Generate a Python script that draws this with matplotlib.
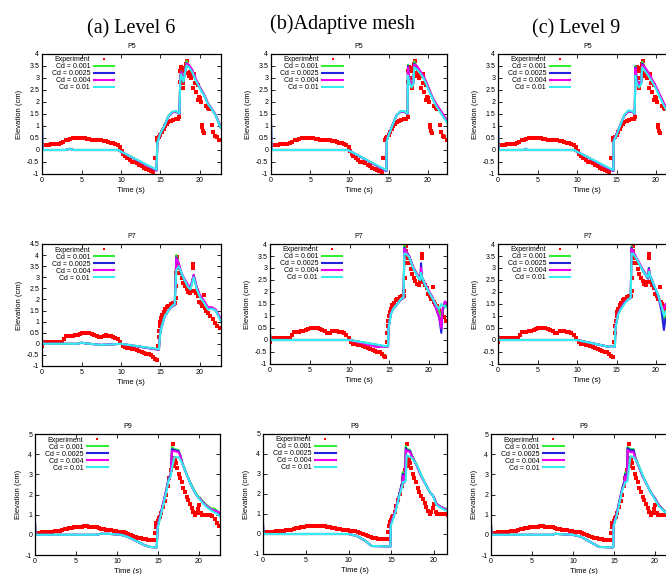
import matplotlib
matplotlib.use('Agg')
import matplotlib.pyplot as plt
from matplotlib.ticker import FormatStrFormatter

plt.rcParams['font.family'] = ['Liberation Sans', 'DejaVu Sans']
plt.rcParams['axes.unicode_minus'] = False

# Experiment (same measurements in every column)
exp5_t = [0.0, 0.3, 0.6, 0.9, 1.2, 1.5, 1.8, 2.1, 2.4, 2.7, 3.0, 3.3, 3.6, 3.9, 4.2, 4.5, 4.8, 5.1, 5.4, 5.7,
          6.0, 6.3, 6.6, 6.9, 7.2, 7.5, 7.8, 8.1, 8.4, 8.7, 9.0, 9.3, 9.6, 9.9, 10.1, 10.3, 10.5, 10.8, 11.1, 11.4,
          11.7, 12.0, 12.3, 12.6, 12.9, 13.2, 13.5, 13.8, 14.1, 14.25, 14.5, 14.6, 14.8, 15.0, 15.2, 15.4, 15.6, 15.8,
          16.0, 16.3, 16.6, 16.9, 17.2, 17.4, 17.45, 17.5, 17.55, 17.7, 17.8, 17.9, 18.0, 18.1, 18.2, 18.3, 18.4,
          18.5, 18.6, 18.7, 18.8, 18.9, 19.0, 19.1, 19.2, 19.3, 19.4, 19.5, 19.7, 19.8, 19.9, 20.0, 20.1, 20.2,
          20.3, 20.4, 20.5, 20.8, 21.0, 21.2, 21.5, 21.7, 21.9, 22.1, 22.4, 22.6]
exp5_y = [0.22, 0.22, 0.22, 0.22, 0.23, 0.23, 0.24, 0.26, 0.28, 0.32, 0.40, 0.42, 0.45, 0.48, 0.50, 0.51, 0.52, 0.51, 0.50, 0.47,
          0.45, 0.43, 0.42, 0.43, 0.42, 0.40, 0.38, 0.36, 0.34, 0.31, 0.28, 0.24, 0.20, 0.12, -0.05, -0.15, -0.25, -0.35, -0.42, -0.48,
          -0.52, -0.56, -0.62, -0.68, -0.74, -0.80, -0.85, -0.89, -0.90, -0.35, 0.40, 0.50, 0.55, 0.62, 0.75, 0.88, 1.00, 1.08,
          1.15, 1.22, 1.25, 1.28, 1.30, 1.38, 2.85, 3.30, 3.45, 3.00, 2.80, 2.60, 3.30, 3.40, 3.60, 3.70, 3.50,
          3.20, 3.10, 3.25, 3.00, 3.15, 3.15, 2.60, 3.10, 3.15, 2.80, 2.40, 2.70, 2.10, 2.20, 2.15, 2.00, 1.05,
          0.95, 0.80, 0.70, 1.85, 1.75, 1.70, 1.05, 0.75, 0.60, 0.55, 0.42, 0.40]

exp7_t = [0.0, 0.1, 0.4, 0.7, 1.0, 1.3, 1.6, 1.9, 2.2, 2.5, 2.8, 3.0, 3.3, 3.6, 3.9, 4.2, 4.5, 4.8, 5.1, 5.4,
          5.7, 6.0, 6.3, 6.6, 6.9, 7.2, 7.5, 7.8, 8.1, 8.4, 8.7, 9.0, 9.3, 9.6, 9.9, 10.2, 10.5, 10.8, 11.1, 11.4,
          11.7, 12.0, 12.3, 12.6, 12.9, 13.2, 13.5, 13.8, 14.1, 14.3, 14.5, 14.7, 14.75, 14.8, 14.9, 15.0, 15.1, 15.2,
          15.4, 15.6, 15.8, 16.0, 16.3, 16.6, 16.8, 16.9, 16.95, 17.0, 17.05, 17.1, 17.2, 17.35, 17.5, 17.7, 17.9,
          18.1, 18.3, 18.5, 18.7, 18.9, 19.1, 19.15, 19.3, 19.5, 19.7, 19.9, 20.1, 20.3, 20.5, 20.6, 20.8, 21.0,
          21.3, 21.6, 21.9, 22.2, 22.5]
exp7_y = [-0.10, 0.05, 0.08, 0.08, 0.08, 0.08, 0.08, 0.08, 0.08, 0.10, 0.20, 0.33, 0.35, 0.35, 0.36, 0.38, 0.40, 0.44, 0.48, 0.50,
          0.50, 0.48, 0.45, 0.42, 0.37, 0.30, 0.30, 0.36, 0.38, 0.37, 0.35, 0.32, 0.28, 0.20, 0.08, -0.08, -0.15, -0.18, -0.20, -0.22,
          -0.25, -0.28, -0.32, -0.38, -0.42, -0.45, -0.48, -0.52, -0.58, -0.68, -0.72, -0.10, 0.30, 0.60, 0.80, 1.00, 1.15, 1.30,
          1.45, 1.55, 1.65, 1.72, 1.78, 1.82, 1.85, 2.05, 2.60, 3.20, 3.90, 3.70, 3.50, 3.40, 3.20, 2.95, 2.75,
          2.60, 2.45, 2.35, 2.30, 2.40, 3.60, 3.40, 2.40, 2.30, 2.15, 1.90, 1.85, 1.70, 2.20, 1.60, 1.50, 1.40,
          1.25, 1.10, 0.95, 0.80, 0.72]

exp9_t = [0.0, 0.3, 0.6, 0.9, 1.2, 1.5, 1.8, 2.1, 2.4, 2.7, 3.0, 3.3, 3.6, 3.9, 4.2, 4.5, 4.8, 5.1, 5.4, 5.7,
          6.0, 6.3, 6.6, 6.9, 7.2, 7.5, 7.8, 8.1, 8.4, 8.7, 9.0, 9.3, 9.6, 9.9, 10.2, 10.5, 10.8, 11.1, 11.4, 11.7,
          12.0, 12.3, 12.6, 12.9, 13.2, 13.5, 13.8, 14.1, 14.4, 14.6, 14.65, 14.7, 14.8, 14.9, 15.0, 15.1, 15.2, 15.4,
          15.6, 15.8, 16.0, 16.2, 16.4, 16.6, 16.7, 16.8, 16.9, 17.0, 17.1, 17.2, 17.3, 17.5, 17.7, 17.9, 18.1,
          18.3, 18.5, 18.7, 18.9, 19.1, 19.3, 19.5, 19.7, 19.9, 20.0, 20.2, 20.4, 20.7, 21.0, 21.3, 21.6, 21.9,
          22.2, 22.5]
exp9_y = [0.08, 0.10, 0.10, 0.12, 0.12, 0.14, 0.15, 0.16, 0.17, 0.18, 0.20, 0.22, 0.27, 0.30, 0.32, 0.35, 0.37, 0.38, 0.39, 0.41,
          0.42, 0.42, 0.41, 0.40, 0.39, 0.37, 0.33, 0.30, 0.28, 0.26, 0.24, 0.22, 0.20, 0.18, 0.16, 0.15, 0.13, 0.10, 0.05, 0.00,
          -0.05, -0.10, -0.15, -0.18, -0.21, -0.23, -0.25, -0.25, -0.26, -0.25, 0.10, 0.40, 0.60, 0.55, 0.70, 0.85, 0.90, 1.10,
          1.40, 1.70, 2.00, 2.40, 2.80, 3.20, 3.50, 4.50, 3.80, 3.40, 3.70, 3.55, 3.30, 3.00, 2.80, 2.60, 2.30,
          2.10, 1.90, 1.75, 1.55, 1.35, 1.15, 1.00, 1.10, 1.30, 1.50, 1.10, 1.00, 1.00, 1.00, 0.98, 0.95, 0.80,
          0.60, 0.45]

# Simulations, column (a) Level 6
t_a5 = [0.0, 0.05, 3.0, 3.5, 4.0, 9.6, 14.5, 14.6, 15.0, 15.5, 16.0, 16.5, 17.0, 17.4, 17.5, 17.6, 17.9, 18.3, 18.6, 19.0, 19.5, 20.0, 20.5, 21.0, 21.5, 22.0, 22.6]
g_a5 = [1.15, 0.0, 0.0, 0.05, 0.0, 0.0, -0.84, 0.35, 0.72, 1.02, 1.42, 1.58, 1.6, 1.5, 3.0, 3.28, 2.85, 3.72, 3.5, 3.32, 2.92, 2.6, 2.32, 1.95, 1.72, 1.45, 0.95]
b_a5 = [1.15, 0.0, 0.0, 0.05, 0.0, 0.0, -0.86, 0.3, 0.7, 1.0, 1.4, 1.57, 1.6, 1.5, 2.95, 3.25, 2.85, 3.62, 3.5, 3.3, 2.9, 2.58, 2.3, 1.93, 1.7, 1.43, 0.95]
m_a5 = [1.15, 0.0, 0.0, 0.05, 0.0, 0.0, -0.85, 0.3, 0.7, 1.0, 1.4, 1.57, 1.6, 1.5, 2.95, 3.25, 2.9, 3.6, 3.55, 3.35, 2.95, 2.6, 2.32, 1.95, 1.72, 1.45, 1.0]
c_a5 = [1.15, 0.0, 0.0, 0.05, 0.0, 0.0, -0.82, 0.3, 0.7, 1.0, 1.42, 1.6, 1.62, 1.52, 2.9, 3.15, 2.85, 3.52, 3.45, 3.25, 2.88, 2.55, 2.28, 1.92, 1.7, 1.42, 0.95]

t_a7 = [0.0, 0.05, 4.5, 5.0, 5.5, 7.5, 10.0, 14.8, 14.9, 15.0, 15.5, 16.0, 16.5, 16.8, 17.0, 17.3, 17.6, 18.0, 18.5, 18.8, 19.2, 19.6, 20.0, 20.5, 21.0, 21.5, 22.0, 22.6]
g_a7 = [0.2, 0.0, 0.0, 0.05, 0.02, -0.05, 0.0, -0.25, 0.3, 0.65, 1.25, 1.5, 1.7, 1.75, 4.0, 3.6, 3.2, 2.9, 2.6, 2.5, 3.1, 2.5, 2.15, 1.9, 1.6, 1.6, 1.5, 1.1]
b_a7 = [0.2, 0.0, 0.0, 0.05, 0.02, -0.05, 0.0, -0.27, 0.3, 0.6, 1.2, 1.5, 1.7, 1.75, 3.9, 3.6, 3.2, 2.9, 2.6, 2.5, 3.1, 2.5, 2.15, 1.9, 1.62, 1.6, 1.5, 1.1]
m_a7 = [0.2, 0.0, 0.0, 0.05, 0.02, -0.05, 0.0, -0.26, 0.25, 0.6, 1.2, 1.5, 1.7, 1.75, 3.85, 3.65, 3.25, 2.95, 2.65, 2.55, 3.1, 2.55, 2.2, 1.95, 1.65, 1.65, 1.55, 1.15]
c_a7 = [0.2, 0.0, 0.0, 0.05, 0.02, -0.05, 0.0, -0.24, 0.2, 0.55, 1.2, 1.5, 1.72, 1.78, 3.3, 3.5, 3.25, 2.9, 2.55, 2.45, 3.0, 2.45, 2.1, 1.85, 1.55, 1.58, 1.5, 1.05]

t_a9 = [0.0, 0.05, 7.5, 8.0, 9.0, 10.5, 11.3, 12.3, 13.3, 14.0, 14.85, 14.95, 15.3, 15.6, 16.0, 16.3, 16.55, 16.7, 17.0, 17.5, 17.7, 18.0, 18.5, 19.0, 19.5, 19.9, 20.1, 20.5, 21.0, 21.5, 21.9, 22.2, 22.6]
g_a9 = [0.6, 0.0, 0.0, 0.05, 0.05, 0.0, -0.1, -0.3, -0.5, -0.6, -0.62, 0.4, 1.0, 1.5, 2.2, 2.8, 3.0, 4.35, 4.25, 4.2, 4.0, 3.55, 3.0, 2.55, 2.15, 1.9, 1.85, 1.65, 1.45, 1.3, 1.3, 1.2, 0.95]
b_a9 = [0.6, 0.0, 0.0, 0.05, 0.05, 0.0, -0.1, -0.3, -0.5, -0.6, -0.62, 0.4, 1.0, 1.5, 2.2, 2.8, 3.0, 4.25, 4.2, 4.15, 3.95, 3.5, 3.0, 2.5, 2.1, 1.85, 1.8, 1.6, 1.4, 1.25, 1.2, 1.15, 0.9]
m_a9 = [0.6, 0.0, 0.0, 0.05, 0.05, 0.0, -0.1, -0.3, -0.5, -0.6, -0.62, 0.4, 1.0, 1.5, 2.2, 2.75, 2.95, 4.15, 4.15, 4.1, 3.95, 3.5, 3.0, 2.5, 2.1, 1.85, 1.8, 1.6, 1.4, 1.25, 1.2, 1.15, 1.1]
c_a9 = [0.6, 0.0, 0.0, 0.05, 0.05, 0.0, -0.1, -0.3, -0.5, -0.6, -0.62, 0.3, 0.9, 1.4, 2.1, 2.7, 2.9, 3.3, 3.85, 3.85, 3.75, 3.5, 3.0, 2.5, 2.1, 1.85, 1.75, 1.55, 1.35, 1.2, 1.1, 1.05, 0.9]

# Simulations, column (b) adaptive mesh
t_b5 = [0.0, 0.05, 9.8, 14.7, 14.75, 15.0, 15.5, 16.0, 16.5, 17.0, 17.4, 17.45, 17.6, 17.9, 18.15, 18.25, 18.6, 19.0, 19.5, 20.0, 20.5, 21.0, 21.5, 22.0, 22.6]
g_b5 = [1.15, 0.0, 0.0, -0.86, 0.4, 0.65, 1.05, 1.45, 1.6, 1.6, 1.5, 3.55, 3.05, 2.7, 2.8, 3.7, 3.45, 3.25, 3.0, 2.65, 2.25, 1.9, 1.65, 1.4, 1.1]
b_b5 = [1.15, 0.0, 0.0, -0.88, 0.4, 0.65, 1.05, 1.45, 1.6, 1.6, 1.5, 3.5, 3.0, 2.7, 2.8, 3.6, 3.45, 3.25, 3.0, 2.6, 2.2, 1.9, 1.65, 1.4, 1.1]
m_b5 = [1.15, 0.0, 0.0, -0.87, 0.4, 0.65, 1.05, 1.45, 1.6, 1.6, 1.5, 3.45, 3.0, 2.75, 2.85, 3.55, 3.5, 3.3, 3.05, 2.65, 2.25, 1.95, 1.7, 1.45, 1.15]
c_b5 = [1.15, 0.0, 0.0, -0.84, 0.35, 0.62, 1.05, 1.45, 1.62, 1.62, 1.52, 3.1, 2.85, 2.6, 2.75, 3.45, 3.35, 3.2, 2.95, 2.55, 2.2, 1.85, 1.6, 1.35, 1.05]

t_b7 = [0.0, 0.05, 10.0, 13.5, 14.5, 14.85, 14.9, 15.2, 15.5, 16.0, 16.5, 16.8, 16.9, 17.1, 17.5, 18.0, 18.5, 18.9, 19.0, 19.1, 19.5, 20.0, 20.5, 21.0, 21.3, 21.55, 21.7, 22.0, 22.6]
g_b7 = [0.25, 0.0, 0.0, -0.2, -0.27, -0.27, 0.5, 1.1, 1.3, 1.5, 1.7, 1.75, 3.95, 3.7, 3.5, 3.05, 2.75, 2.5, 2.8, 2.6, 2.3, 2.0, 1.7, 1.3, 1.2, 0.9, 1.2, 1.5, 1.3]
b_b7 = [0.25, 0.0, 0.0, -0.22, -0.27, -0.27, 0.5, 1.1, 1.3, 1.5, 1.7, 1.75, 3.85, 3.7, 3.5, 3.0, 2.7, 2.5, 3.2, 2.6, 2.3, 2.0, 1.7, 1.2, 0.9, 0.3, 1.2, 1.6, 1.35]
m_b7 = [0.25, 0.0, 0.0, -0.3, -0.27, -0.27, 0.5, 1.1, 1.3, 1.5, 1.7, 1.75, 3.8, 3.7, 3.5, 3.05, 2.75, 2.55, 3.0, 2.65, 2.35, 2.05, 1.75, 1.2, 0.95, 0.5, 1.3, 1.6, 1.4]
c_b7 = [0.25, 0.0, 0.0, -0.2, -0.25, -0.25, 0.45, 1.05, 1.3, 1.5, 1.72, 1.78, 3.6, 3.6, 3.45, 3.0, 2.7, 2.5, 2.8, 2.65, 2.3, 2.0, 1.7, 1.4, 1.3, 1.5, 1.45, 1.4, 1.3]

t_b9 = [0.0, 0.05, 10.0, 11.0, 12.0, 12.7, 14.9, 14.95, 15.5, 16.0, 16.3, 16.35, 16.45, 16.6, 16.7, 16.8, 17.2, 17.4, 18.0, 18.5, 19.0, 19.5, 19.9, 20.0, 20.3, 20.8, 21.5]
g_b9 = [0.5, 0.0, 0.0, -0.1, -0.35, -0.6, -0.62, 0.5, 1.2, 2.1, 2.6, 3.1, 2.6, 2.65, 4.4, 4.25, 4.2, 3.95, 3.45, 2.95, 2.5, 2.1, 1.9, 1.85, 1.5, 1.35, 1.25]
b_b9 = [0.5, 0.0, 0.0, -0.1, -0.35, -0.6, -0.62, 0.5, 1.2, 2.1, 2.6, 3.0, 2.6, 2.65, 4.3, 4.2, 4.15, 3.9, 3.4, 2.9, 2.5, 2.1, 1.9, 1.8, 1.5, 1.35, 1.2]
m_b9 = [0.5, 0.0, 0.0, -0.1, -0.35, -0.6, -0.62, 0.5, 1.2, 2.05, 2.5, 2.9, 2.55, 2.6, 4.2, 4.15, 4.1, 3.9, 3.4, 2.9, 2.5, 2.1, 1.9, 1.8, 1.5, 1.35, 1.2]
c_b9 = [0.5, 0.0, 0.0, -0.1, -0.35, -0.6, -0.62, 0.4, 1.1, 2.0, 2.4, 2.6, 2.6, 2.6, 2.7, 3.95, 3.85, 3.8, 3.45, 2.95, 2.5, 2.1, 1.9, 1.75, 1.45, 1.3, 1.15]

# Simulations, column (c) Level 9
t_c5 = [0.0, 0.05, 3.3, 3.5, 3.7, 9.6, 14.6, 14.65, 15.0, 15.5, 16.0, 16.5, 17.0, 17.3, 17.4, 17.55, 17.85, 18.15, 18.25, 18.6, 19.0, 19.5, 20.0, 20.5, 21.0, 21.5, 22.6]
g_c5 = [1.15, 0.0, 0.0, 0.05, 0.0, 0.0, -0.86, 0.4, 0.65, 1.05, 1.45, 1.62, 1.6, 1.5, 3.5, 2.95, 2.7, 2.85, 3.68, 3.4, 3.2, 2.9, 2.6, 2.25, 1.9, 1.6, 1.1]
b_c5 = [1.15, 0.0, 0.0, 0.05, 0.0, 0.0, -0.88, 0.4, 0.65, 1.05, 1.45, 1.6, 1.6, 1.5, 3.45, 2.95, 2.7, 2.8, 3.6, 3.4, 3.2, 2.9, 2.6, 2.25, 1.9, 1.6, 1.1]
m_c5 = [1.15, 0.0, 0.0, 0.05, 0.0, 0.0, -0.87, 0.4, 0.65, 1.05, 1.45, 1.6, 1.6, 1.5, 3.4, 2.9, 2.75, 2.85, 3.55, 3.45, 3.25, 2.95, 2.65, 2.3, 1.95, 1.65, 1.15]
c_c5 = [1.15, 0.0, 0.0, 0.05, 0.0, 0.0, -0.84, 0.35, 0.62, 1.05, 1.47, 1.65, 1.62, 1.52, 3.1, 2.8, 2.6, 2.75, 3.45, 3.3, 3.1, 2.85, 2.55, 2.2, 1.85, 1.55, 1.05]

t_c7 = [0.0, 0.05, 10.0, 14.0, 14.8, 14.85, 15.2, 15.5, 16.0, 16.5, 16.8, 16.9, 17.1, 17.5, 18.0, 18.5, 19.0, 19.1, 19.2, 19.8, 20.3, 20.7, 21.0, 21.2, 22.6]
g_c7 = [0.2, 0.0, 0.0, -0.28, -0.28, 0.5, 1.1, 1.3, 1.55, 1.7, 1.75, 3.9, 3.65, 3.4, 3.1, 2.8, 2.6, 3.0, 2.7, 2.2, 1.85, 1.35, 0.8, 1.0, 1.0]
b_c7 = [0.2, 0.0, 0.0, -0.28, -0.28, 0.5, 1.1, 1.3, 1.55, 1.7, 1.75, 3.85, 3.65, 3.4, 3.1, 2.8, 2.55, 3.0, 2.7, 2.2, 1.8, 1.2, 0.42, 0.9, 0.9]
m_c7 = [0.2, 0.0, 0.0, -0.28, -0.28, 0.5, 1.1, 1.3, 1.55, 1.7, 1.75, 3.8, 3.7, 3.45, 3.15, 2.85, 2.6, 2.95, 2.75, 2.25, 1.85, 1.4, 1.3, 1.5, 1.5]
c_c7 = [0.2, 0.0, 0.0, -0.28, -0.28, 0.45, 1.05, 1.25, 1.5, 1.7, 1.75, 3.6, 3.6, 3.4, 3.1, 2.8, 2.6, 2.85, 2.75, 2.25, 1.85, 1.4, 1.0, 1.2, 1.2]

t_c9 = [0.0, 0.05, 7.5, 7.8, 10.0, 11.0, 12.3, 13.2, 14.9, 14.95, 15.3, 16.0, 16.3, 16.35, 16.45, 16.6, 16.65, 17.0, 17.4, 17.6, 18.0, 18.5, 19.0, 19.5, 20.0, 20.5, 21.3, 22.6]
g_c9 = [0.5, 0.0, 0.0, 0.05, 0.0, -0.1, -0.4, -0.6, -0.62, 0.5, 1.0, 2.3, 2.7, 3.1, 2.7, 2.75, 4.35, 4.25, 4.25, 3.85, 3.45, 2.95, 2.5, 2.1, 1.8, 1.45, 1.15, 0.9]
b_c9 = [0.5, 0.0, 0.0, 0.05, 0.0, -0.1, -0.4, -0.6, -0.62, 0.5, 1.0, 2.3, 2.7, 3.0, 2.7, 2.75, 4.3, 4.2, 4.2, 3.8, 3.4, 2.9, 2.5, 2.1, 1.8, 1.45, 1.1, 0.9]
m_c9 = [0.5, 0.0, 0.0, 0.05, 0.0, -0.1, -0.4, -0.6, -0.62, 0.5, 1.0, 2.25, 2.6, 2.9, 2.65, 2.7, 4.2, 4.1, 4.1, 3.8, 3.4, 2.9, 2.5, 2.1, 1.8, 1.45, 1.1, 0.9]
c_c9 = [0.5, 0.0, 0.0, 0.05, 0.0, -0.1, -0.4, -0.6, -0.62, 0.4, 0.9, 2.2, 2.5, 2.6, 2.6, 2.65, 2.7, 3.9, 3.85, 3.75, 3.45, 2.95, 2.5, 2.1, 1.75, 1.4, 1.1, 0.9]

cd_labels = ['Cd = 0.001', 'Cd = 0.0025', 'Cd = 0.004', 'Cd = 0.01']
cd_colors = ['#33ee33', '#2222dd', '#ee00ee', '#33eeee']
headers = ['(a) Level 6', '(b)Adaptive mesh', '(c) Level 9']

W, H = 666.0, 574.0
fig = plt.figure(figsize=(W / 100, H / 100), dpi=100)

# layout in pixels: left, px per second, xmax, top, bottom
panels = [
    ('P5', exp5_t, exp5_y, t_a5, [g_a5, b_a5, m_a5, c_a5], (42, 7.9, 22.6, 54, 174), (-1, 4), 0.5),
    ('P5', exp5_t, exp5_y, t_b5, [g_b5, b_b5, m_b5, c_b5], (271, 7.85, 22.4, 54, 174), (-1, 4), 0.5),
    ('P5', exp5_t, exp5_y, t_c5, [g_c5, b_c5, m_c5, c_c5], (498, 7.9, 22.6, 54, 174), (-1, 4), 0.5),
    ('P7', exp7_t, exp7_y, t_a7, [g_a7, b_a7, m_a7, c_a7], (42, 7.9, 22.6, 244, 366), (-1, 4.5), 0.5),
    ('P7', exp7_t, exp7_y, t_b7, [g_b7, b_b7, m_b7, c_b7], (270, 7.95, 22.3, 244, 364), (-1, 4), 0.5),
    ('P7', exp7_t, exp7_y, t_c7, [g_c7, b_c7, m_c7, c_c7], (498, 7.9, 22.6, 244, 364), (-1, 4), 0.5),
    ('P9', exp9_t, exp9_y, t_a9, [g_a9, b_a9, m_a9, c_a9], (35, 8.2, 22.55, 434, 555), (-1, 5), 1.0),
    ('P9', exp9_t, exp9_y, t_b9, [g_b9, b_b9, m_b9, c_b9], (263, 8.55, 21.5, 434, 554), (-1, 5), 1.0),
    ('P9', exp9_t, exp9_y, t_c9, [g_c9, b_c9, m_c9, c_c9], (491, 8.2, 22.6, 434, 555), (-1, 5), 1.0),
]

for name, et, ey, st, sims, (left, scale, xmax, top, bottom), ylim, ystep in panels:
    ax = fig.add_axes([left / W, 1 - bottom / H, xmax * scale / W, (bottom - top) / H])
    ax.plot(et, ey, 's', color='#ff0000', ms=2.5, mew=0, label='Experiment')
    for ys, lab, col in zip(sims, cd_labels, cd_colors):
        ax.plot(st, ys, color=col, lw=1.5, label=lab)
    ax.set_xlim(0, xmax)
    ax.set_ylim(*ylim)
    ax.set_xticks([0, 5, 10, 15, 20])
    n = int(round((ylim[1] - ylim[0]) / ystep))
    ax.set_yticks([ylim[0] + i * ystep for i in range(n + 1)])
    ax.yaxis.set_major_formatter(FormatStrFormatter('%g'))
    ax.tick_params(direction='in', top=True, right=True, length=3, width=0.6, labelsize=5, pad=2)
    for sp in ax.spines.values():
        sp.set_linewidth(0.9)
    ax.set_title(name, fontsize=5, pad=4)
    ax.set_xlabel('Time (s)', fontsize=5.5, labelpad=2)
    ax.set_ylabel('Elevation (cm)', fontsize=5.5, labelpad=3)
    ax.legend(loc='upper left', bbox_to_anchor=(0.05, 0.985), frameon=False, fontsize=5,
              markerfirst=False, numpoints=1, markerscale=0.7, labelspacing=0.0, handlelength=3.0,
              handletextpad=0.5, borderpad=0.1, borderaxespad=0.0)

fig.text(131 / W, 1 - 33 / H, headers[0], ha='center', va='baseline', fontsize=14.5, family='Liberation Serif')
fig.text(342 / W, 1 - 29 / H, headers[1], ha='center', va='baseline', fontsize=14.5, family='Liberation Serif')
fig.text(576 / W, 1 - 33 / H, headers[2], ha='center', va='baseline', fontsize=14.5, family='Liberation Serif')

fig.savefig('out.png', dpi=100)
